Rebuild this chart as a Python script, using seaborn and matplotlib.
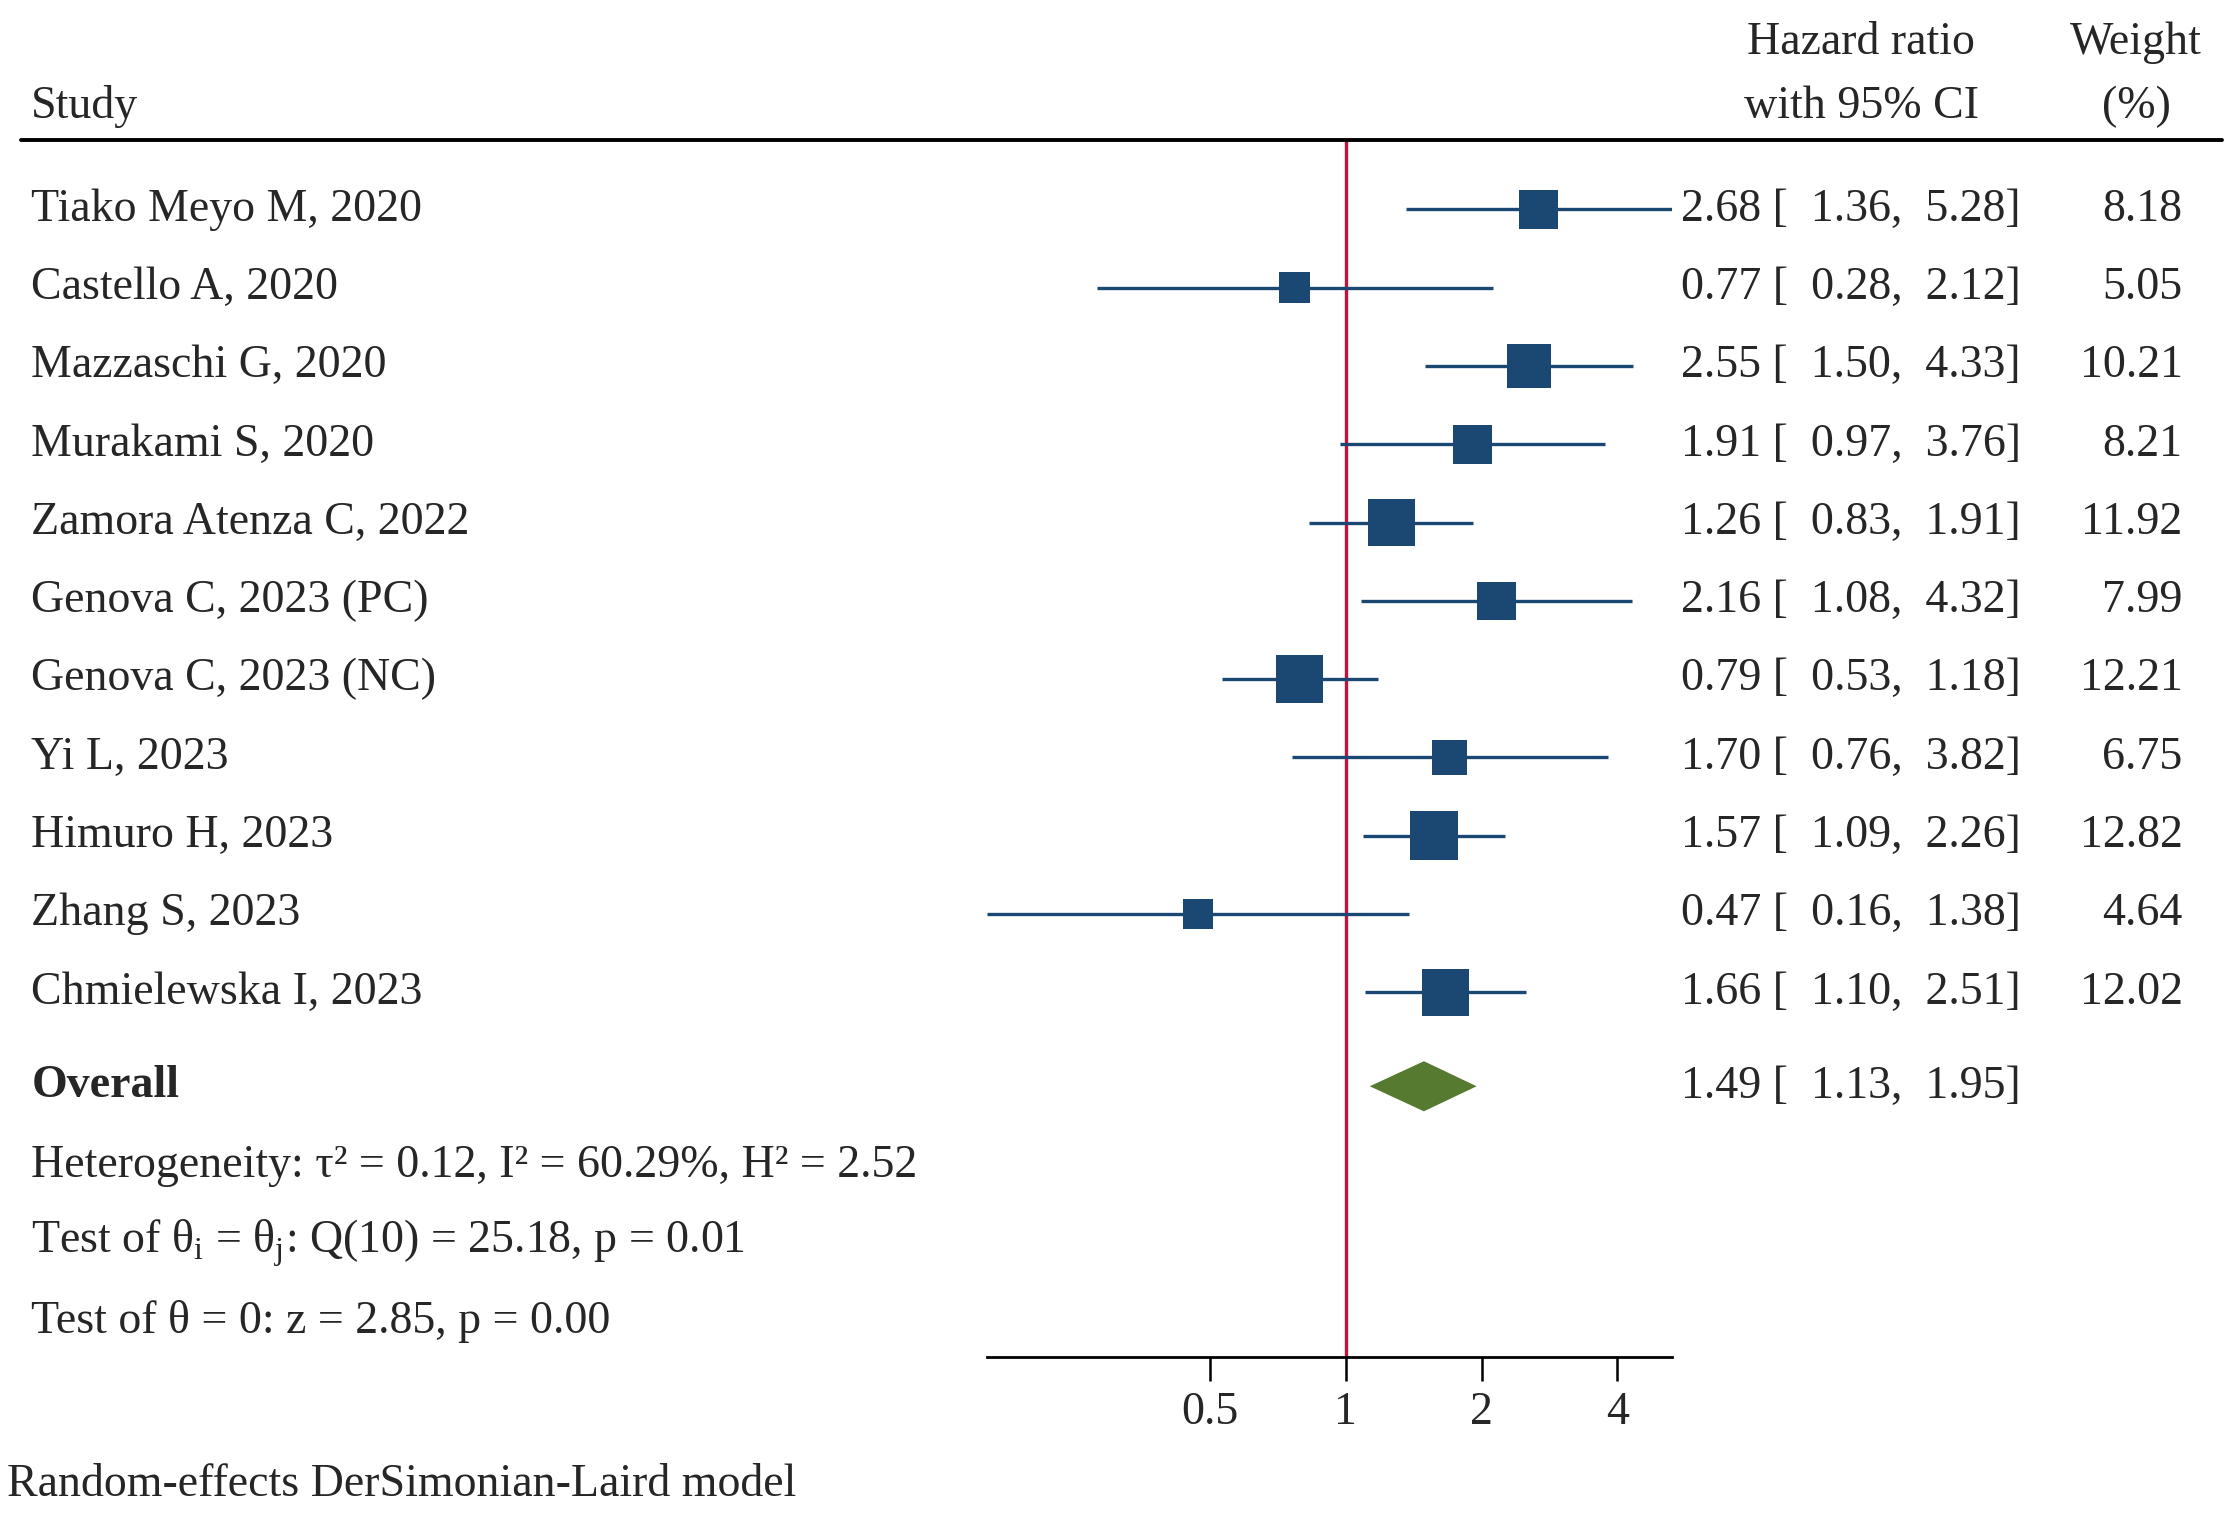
import numpy as np
import pandas as pd
import seaborn as sns
import matplotlib.pyplot as plt
import matplotlib.transforms as mtransforms
from matplotlib.lines import Line2D

# --- data ---
studies = [
    "Tiako Meyo M, 2020", "Castello A, 2020", "Mazzaschi G, 2020",
    "Murakami S, 2020", "Zamora Atenza C, 2022", "Genova C, 2023 (PC)",
    "Genova C, 2023 (NC)", "Yi L, 2023", "Himuro H, 2023",
    "Zhang S, 2023", "Chmielewska I, 2023",
]
hr = [2.68, 0.77, 2.55, 1.91, 1.26, 2.16, 0.79, 1.70, 1.57, 0.47, 1.66]
ci_low = [1.36, 0.28, 1.50, 0.97, 0.83, 1.08, 0.53, 0.76, 1.09, 0.16, 1.10]
ci_high = [5.28, 2.12, 4.33, 3.76, 1.91, 4.32, 1.18, 3.82, 2.26, 1.38, 2.51]
weights = [8.18, 5.05, 10.21, 8.21, 11.92, 7.99, 12.21, 6.75, 12.82, 4.64, 12.02]

overall_hr, overall_low, overall_high = 1.49, 1.13, 1.95
stats_lines = [
    "Heterogeneity: τ² = 0.12, I² = 60.29%, H² = 2.52",
    r"Test of θ$_\mathrm{i}$ = θ$_\mathrm{j}$: Q(10) = 25.18, p = 0.01",
    "Test of θ = 0: z = 2.85, p = 0.00",
]
xticks = [0.5, 1, 2, 4]
model_note = "Random-effects DerSimonian-Laird model"

df = pd.DataFrame({"study": studies, "hr": hr, "low": ci_low,
                   "high": ci_high, "weight": weights})
df["row"] = np.arange(len(df))

sns.set_theme(style="white")
plt.rcParams["font.family"] = ["Liberation Serif", "DejaVu Serif"]
plt.rcParams["mathtext.fontset"] = "custom"
plt.rcParams["mathtext.rm"] = "Liberation Serif"

navy = "#1b4773"
red = "#c0143c"
green = "#567a2f"
fs = 16.5

fig = plt.figure(figsize=(11.125, 7.57), dpi=200)
ax = fig.add_axes([0.4436, 0.1036, 0.3077, 0.8041])

n = len(df)
y_overall = n + 0.2
y_stats = [n + 1.22, n + 2.21, n + 3.21]

# CI whiskers and weighted squares
ax.hlines(df["row"], df["low"], df["high"], color=navy, lw=1.2, zorder=2)
sns.scatterplot(data=df, x="hr", y="row", size="weight",
                sizes=(23.9 * min(weights), 23.9 * max(weights)),
                marker="s", color=navy, linewidth=0, legend=False,
                ax=ax, zorder=3)

# overall diamond
ax.fill([overall_low, overall_hr, overall_high, overall_hr],
        [y_overall, y_overall - 0.32, y_overall, y_overall + 0.32],
        color=green, lw=0, zorder=3)

ax.axvline(1, color=red, lw=1.2, zorder=1)

ax.set_xscale("log")
ax.set_xlim(min(ci_low), max(ci_high))
ax.set_ylim(n + 3.66, -0.89)
ax.set_xticks(xticks)
ax.set_xticklabels([f"{t:g}" for t in xticks], fontsize=fs)
ax.minorticks_off()
ax.set_yticks([])
ax.set_xlabel("")
ax.set_ylabel("")
for side in ["top", "left", "right"]:
    ax.spines[side].set_visible(False)
ax.spines["bottom"].set_color("black")
ax.spines["bottom"].set_linewidth(1.0)
ax.tick_params(axis="x", direction="out", length=8.5, width=0.9,
               color="black", pad=4, bottom=True)

# --- text columns (x in figure fraction, y in data rows) ---
trans = mtransforms.blended_transform_factory(fig.transFigure, ax.transData)
x_study, x_hr, x_wt = 0.0141, 0.7555, 0.981

for _, r in df.iterrows():
    ax.text(x_study, r["row"], r["study"], transform=trans, fontsize=fs,
            va="center", ha="left")
    ax.text(x_hr, r["row"], f"{r['hr']:.2f} [{r['low']:6.2f},{r['high']:6.2f}]",
            transform=trans, fontsize=fs, va="center", ha="left")
    ax.text(x_wt, r["row"], f"{r['weight']:.2f}", transform=trans,
            fontsize=fs, va="center", ha="right")

ax.text(x_study, y_overall, "Overall", transform=trans, fontsize=fs,
        fontweight="bold", va="center", ha="left")
ax.text(x_hr, y_overall,
        f"{overall_hr:.2f} [{overall_low:6.2f},{overall_high:6.2f}]",
        transform=trans, fontsize=fs, va="center", ha="left")
for yy, line in zip(y_stats, stats_lines):
    ax.text(x_study, yy, line, transform=trans, fontsize=fs,
            va="center", ha="left")

# header
ax.text(x_study, -1.31, "Study", transform=trans, fontsize=fs,
        va="center", ha="left")
ax.text(0.8365, -2.13, "Hazard ratio", transform=trans, fontsize=fs,
        va="center", ha="center")
ax.text(0.8365, -1.31, "with 95% CI", transform=trans, fontsize=fs,
        va="center", ha="center")
ax.text(0.960, -2.13, "Weight", transform=trans, fontsize=fs,
        va="center", ha="center")
ax.text(0.960, -1.31, "(%)", transform=trans, fontsize=fs,
        va="center", ha="center")
fig.add_artist(Line2D([0.0096, 0.9987], [-0.89, -0.89], transform=trans,
                      color="black", lw=1.4))

fig.text(0.0032, 0.019, model_note, fontsize=fs, va="center", ha="left")

fig.savefig("out.png", dpi=200)
